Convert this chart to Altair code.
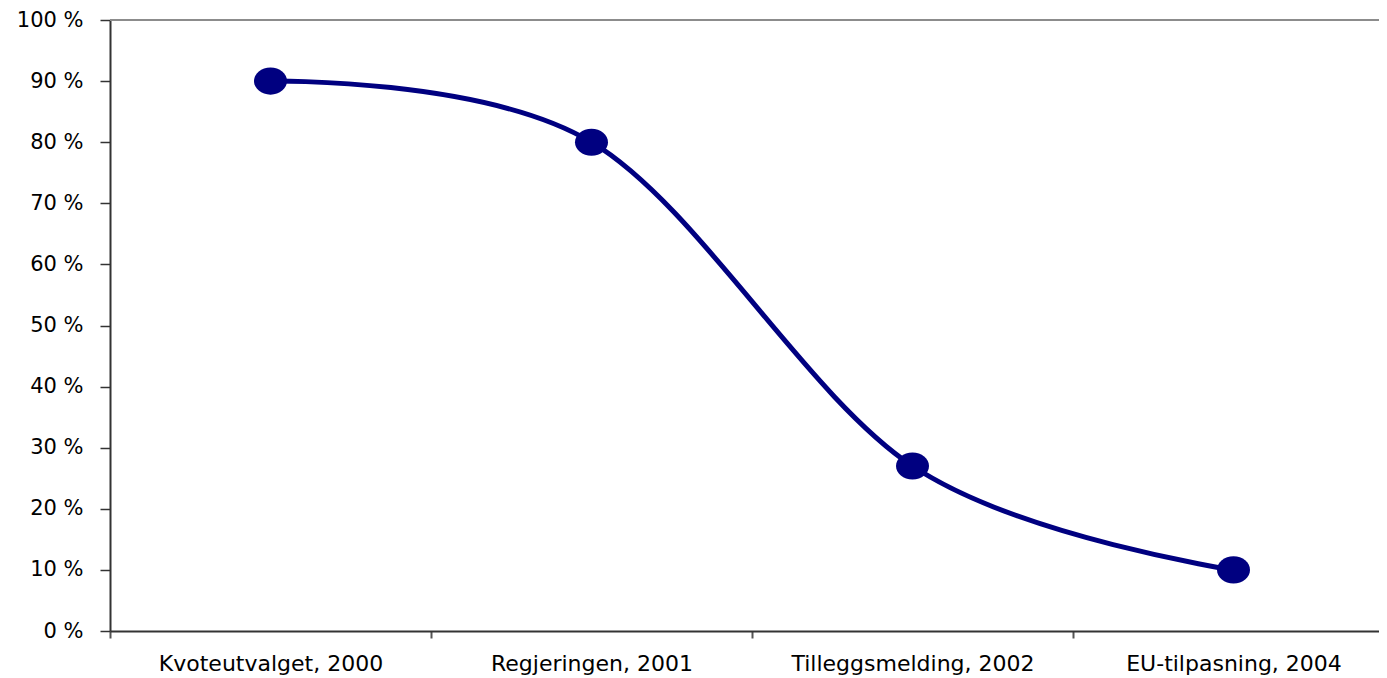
import altair as alt
import pandas as pd

categories = ["Kvoteutvalget, 2000", "Regjeringen, 2001", "Tilleggsmelding, 2002", "EU-tilpasning, 2004"]
values = [90, 80, 27, 10]
y_ticks = [0, 10, 20, 30, 40, 50, 60, 70, 80, 90, 100]

df = pd.DataFrame({"cat": categories, "val": values})

FONT = "DejaVu Sans"
NAVY = "#000080"
ELLIPSE = "M-1,0A1,0.82,0,1,1,1,0A1,0.82,0,1,1,-1,0Z"

x_enc = alt.X(
    "cat:N",
    sort=categories,
    scale=alt.Scale(range=[0, 1284], paddingInner=0, paddingOuter=0),
    axis=alt.Axis(
        title=None,
        labelAngle=0,
        labelFont=FONT,
        labelFontSize=22,
        labelColor="#000000",
        labelPadding=15,
        labelLimit=0,
        labelOverlap=False,
        tickBand="extent",
        tickSize=7,
        tickColor="#555555",
        tickWidth=2,
        domainColor="#333333",
        domainWidth=2,
        grid=False,
    ),
)
y_enc = alt.Y(
    "val:Q",
    scale=alt.Scale(domain=[0, 100], nice=False, zero=True),
    axis=alt.Axis(
        title=None,
        values=y_ticks,
        labelExpr="datum.value + ' %'",
        labelFont=FONT,
        labelFontSize=21,
        labelColor="#000000",
        labelPadding=17,
        labelLimit=0,
        tickSize=10,
        tickColor="#333333",
        tickWidth=1.5,
        domainColor="#333333",
        domainWidth=2,
        grid=False,
    ),
)

base = alt.Chart(df)

top_rule = base.mark_rule(color="#8c8c8c", strokeWidth=2).encode(
    x=alt.value(0), x2=alt.value(1300), y=alt.value(0)
)

line = base.mark_line(color=NAVY, strokeWidth=5, interpolate="cardinal").encode(x=x_enc, y=y_enc)

points = base.mark_point(
    shape=ELLIPSE, filled=True, fill=NAVY, stroke=NAVY, strokeWidth=0, opacity=1, size=1089
).encode(x=x_enc, y=y_enc)

chart = (
    alt.layer(top_rule, line, points)
    .properties(
        width=1269,
        height=611,
        autosize=alt.AutoSizeParams(type="none"),
        padding={"left": 102, "top": 12, "right": 0, "bottom": 47},
    )
    .configure_view(stroke=None)
    .configure(background="#ffffff")
)

chart.save("out.html", embed_options={"renderer": "svg", "actions": False})
